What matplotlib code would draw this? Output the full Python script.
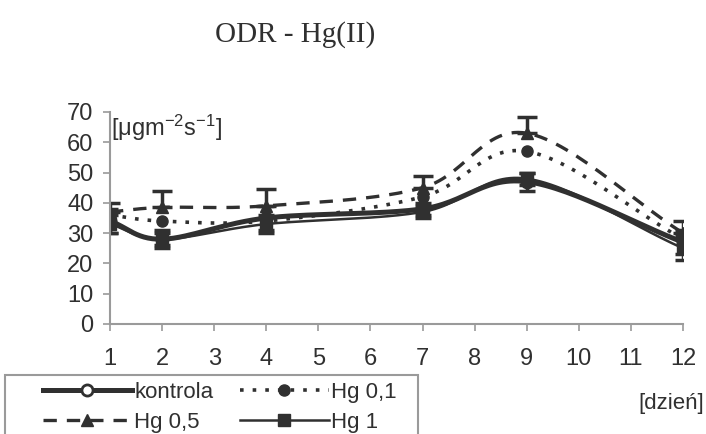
import numpy as np
import matplotlib
matplotlib.use("Agg")
import matplotlib.pyplot as plt
from matplotlib.lines import Line2D
from matplotlib.patches import Rectangle

plt.rcParams['font.family'] = ['Liberation Sans Narrow', 'Liberation Sans', 'DejaVu Sans']

# --- data ---
days = [1, 2, 4, 7, 9, 12]
kontrola = [34, 28, 35, 38, 47, 27]
hg01 = [36, 34, 34, 42, 57, 28]
hg05 = [37, 38.5, 39, 45, 63, 30]
hg1 = [33, 28, 33, 37, 48, 25]

err_kontrola = [4, 3, 4, 2, 3, 4]
err_hg05 = [3, 5.5, 5.5, 4, 5.5, 4]
err_hg1 = [3, 2, 3, 2, 2, 4]

xticks = list(range(1, 13))
yticks = list(range(0, 71, 10))

ink = '#303030'
axis_col = '#9a9a9a'


def smooth(x, y, n=30):
    # Catmull-Rom curve through the points (like Excel "smoothed line")
    x = np.asarray(x, float)
    y = np.asarray(y, float)
    px = np.concatenate([[2 * x[0] - x[1]], x, [2 * x[-1] - x[-2]]])
    py = np.concatenate([[2 * y[0] - y[1]], y, [2 * y[-1] - y[-2]]])
    xs, ys = [], []
    t = np.linspace(0, 1, n)
    for i in range(1, len(px) - 2):
        for p, out in ((px, xs), (py, ys)):
            p0, p1, p2, p3 = p[i - 1], p[i], p[i + 1], p[i + 2]
            seg = 0.5 * ((2 * p1) + (-p0 + p2) * t
                         + (2 * p0 - 5 * p1 + 4 * p2 - p3) * t ** 2
                         + (-p0 + 3 * p1 - 3 * p2 + p3) * t ** 3)
            out.extend(seg)
    return np.array(xs), np.array(ys)


fig = plt.figure(figsize=(7.06, 4.34), dpi=100)
ax = fig.add_axes([110 / 706, 1 - 324 / 434, (683 - 110) / 706, (324 - 112) / 434])

series = [
    (kontrola, err_kontrola, dict(ls='-', lw=3.6, marker='o', mfc='white', mew=2), 'kontrola'),
    (hg01, None, dict(ls=(0, (1, 2.5)), lw=2.6, marker='o', mfc=ink, mew=1), 'Hg 0,1'),
    (hg05, None, dict(ls=(0, (4, 3)), lw=2.4, marker='^', mfc=ink, mew=1), 'Hg 0,5'),
    (hg1, err_hg1, dict(ls='-', lw=1.8, marker='s', mfc=ink, mew=1), 'Hg 1'),
]

for vals, err, st, name in series:
    sx, sy = smooth(days, vals)
    ax.plot(sx, sy, color=ink, ls=st['ls'], lw=st['lw'], solid_capstyle='butt')
    ax.plot(days, vals, ls='none', marker=st['marker'], ms=8, color=ink,
            mfc=st['mfc'], mec=ink, mew=st['mew'])
    if err is not None:
        ax.errorbar(days, vals, yerr=err, fmt='none', ecolor=ink, elinewidth=2.5,
                    capsize=6, capthick=2.5)

# upper error bars of Hg 0,5
ax.errorbar(days, hg05, yerr=[np.zeros(len(err_hg05)), err_hg05], fmt='none',
            ecolor=ink, elinewidth=2.5, capsize=7, capthick=2.5)

ax.set_xlim(1, 12)
ax.set_ylim(0, 70)
ax.set_xticks(xticks)
ax.set_yticks(yticks)
ax.tick_params(axis='both', colors=axis_col, labelcolor=ink, labelsize=17, length=5, width=1.2)
ax.tick_params(axis='x', pad=12)
ax.tick_params(axis='y', pad=7)
for s in ['top', 'right']:
    ax.spines[s].set_visible(False)
for s in ['left', 'bottom']:
    ax.spines[s].set_color(axis_col)
    ax.spines[s].set_linewidth(1.5)

fig.text(295 / 706, 1 - 35 / 434, 'ODR - Hg(II)', ha='center', va='center',
         fontsize=21, family='Liberation Serif', color=ink)
fig.text(111 / 706, 1 - 128 / 434, r'[$\mathregular{\mu gm^{-2}s^{-1}}$]', ha='left', va='center',
         fontsize=17, color=ink)
fig.text(704 / 706, 1 - 404 / 434, '[dzień]', ha='right', va='center', fontsize=16, color=ink)

# legend frame (runs past the bottom edge, as in the scan)
fig.patches.append(Rectangle((5 / 706, -0.02), (418 - 5) / 706, 0.02 + (434 - 375) / 434,
                             transform=fig.transFigure, fill=False,
                             edgecolor=axis_col, linewidth=1.5))

handles = [
    Line2D([], [], color=ink, ls='-', lw=3.6, marker='o', ms=8, mfc='white', mew=2),
    Line2D([], [], color=ink, ls=(0, (4, 3)), lw=2.4, marker='^', ms=8),
    Line2D([], [], color=ink, ls=(0, (1, 2.5)), lw=2.6, marker='o', ms=8),
    Line2D([], [], color=ink, ls='-', lw=1.8, marker='s', ms=8),
]
labels = ['kontrola', 'Hg 0,5', 'Hg 0,1', 'Hg 1']
leg = fig.legend(handles, labels, ncol=2, loc='upper left',
                 bbox_to_anchor=(43 / 706, 1 - 382 / 434), fontsize=16,
                 frameon=False, handlelength=4.0, handletextpad=0.1,
                 columnspacing=1.2, labelspacing=0.4, borderpad=0, borderaxespad=0,
                 labelcolor=ink)

fig.savefig('out.png', dpi=100)
